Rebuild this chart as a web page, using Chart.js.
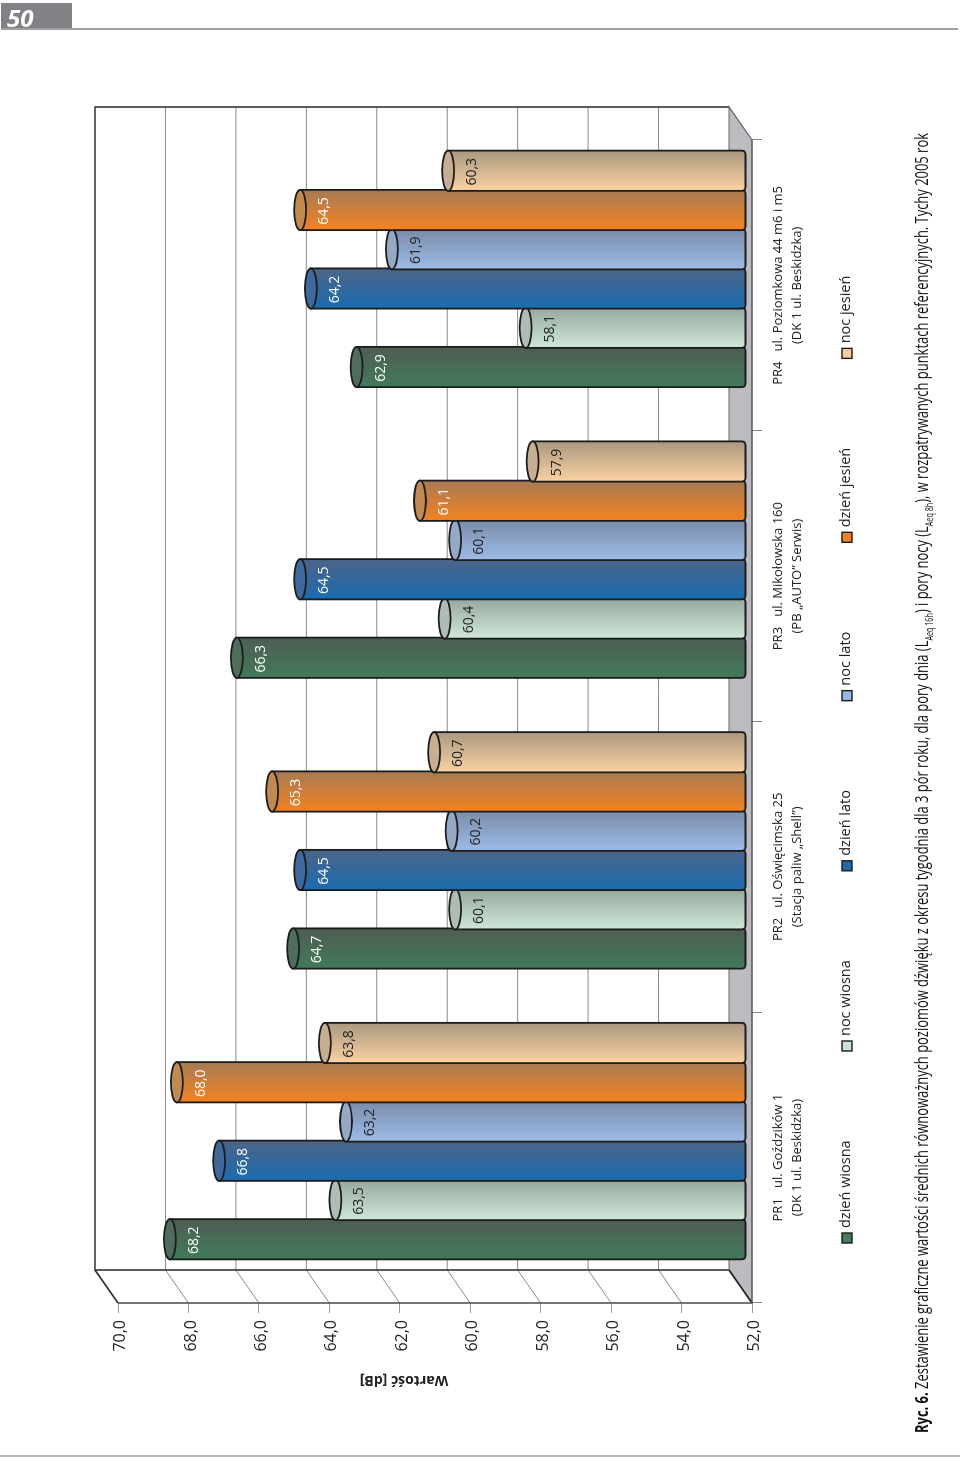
<!DOCTYPE html>
<html lang="pl"><head><meta charset="utf-8">
<script src="https://cdn.jsdelivr.net/npm/chart.js@4"></script>
<style>
html,body{margin:0;padding:0;background:#fff;width:960px;height:1457px;overflow:hidden;font-family:"Open Sans",sans-serif}
#hdrBox{position:absolute;left:1px;top:3px;width:71px;height:26px;background:#808285;border-bottom:1px solid #55565a;box-sizing:border-box}
#hdrNum{position:absolute;left:6px;top:-1px;font:italic 700 24px "Open Sans",sans-serif;color:#fff;line-height:32px}
#hdrRule{position:absolute;left:1px;top:28px;width:957px;height:2px;background:#a0a0a2}
#btmRule{position:absolute;left:0;top:1455px;width:960px;height:2px;background:#b8b8b8}
#rot{position:absolute;left:0;top:0;width:1457px;height:960px;transform-origin:0 0;transform:translate(0,1457px) rotate(-90deg)}
canvas{position:absolute;left:0;top:0}
#cap{position:absolute;left:24px;top:909px;white-space:nowrap;font:18px/24px "Open Sans",sans-serif;color:#111;transform-origin:0 50%}
#cap sub{font-size:10px;line-height:0}
</style></head><body>
<div id="rot"><canvas id="c" width="1457" height="960"></canvas>
<div id="cap"><b>Ryc. 6.</b> Zestawienie graficzne wartości średnich równoważnych poziomów dźwięku z okresu tygodnia dla 3 pór roku, dla pory dnia (L<sub>Aeq 16h</sub>) i pory nocy (L<sub>Aeq 8h</sub>), w rozpatrywanych punktach referencyjnych. Tychy 2005 rok</div></div>
<div id="hdrBox"><div id="hdrNum">50</div></div><div id="hdrRule"></div><div id="btmRule"></div>
<script>
const categories=[["PR1   ul. Goździków 1","(DK 1 ul. Beskidzka)"],["PR2   ul. Oświęcimska 25","(Stacja paliw „Shell”)"],["PR3   ul. Mikołowska 160","(PB „AUTO” Serwis)"],["PR4   ul. Poziomkowa 44 m6 i m5","(DK 1 ul. Beskidzka)"]];
const dzienWiosna=[68.2,64.7,66.3,62.9];
const nocWiosna=[63.5,60.1,60.4,58.1];
const dzienLato=[66.8,64.5,64.5,64.2];
const nocLato=[63.2,60.2,60.1,61.9];
const dzienJesien=[68.0,65.3,61.1,64.5];
const nocJesien=[63.8,60.7,57.9,60.3];
const names=['dzień wiosna','noc wiosna','dzień lato','noc lato','dzień jesień','noc jesień'];
const series=[dzienWiosna,nocWiosna,dzienLato,nocLato,dzienJesien,nocJesien];
const valueMin=52,valueMax=70,valueStep=2;
const yTitle="Wartość [dB]";
const FONT='"Open Sans",sans-serif';
const INK='#1c1c1c';
const styles=[
 {dull:'#4f5d53',rich:'#417a5a',cap:'#4f6d5c',solid:'#4a7c5e',txt:'#ffffff'},
 {dull:'#96a89d',rich:'#cfe8d8',cap:'#adbdb4',solid:'#c9e4d3',txt:'#222222'},
 {dull:'#4c6488',rich:'#1a6cb0',cap:'#3f689c',solid:'#1a6bae',txt:'#ffffff'},
 {dull:'#7a8ba8',rich:'#9dbce8',cap:'#94a9c6',solid:'#95b8e4',txt:'#222222'},
 {dull:'#a67b55',rich:'#f58220',cap:'#c08a50',solid:'#f47f20',txt:'#ffffff'},
 {dull:'#a99880',rich:'#fcd2a2',cap:'#c8ae90',solid:'#fbcb98',txt:'#222222'}];
const DX=33,DY=-23; // back-wall depth
const comma=v=>Number(v).toFixed(1).replace('.',',');
const cap=document.getElementById('cap');
cap.style.transform='scaleX('+(1300/cap.offsetWidth)+')';
const scene={id:'scene',
 beforeDatasetsDraw(chart){
  const ctx=chart.ctx,xs=chart.scales.x,ys=chart.scales.y;
  const L=xs.left,R=xs.right,T=ys.getPixelForValue(valueMax),B=ys.getPixelForValue(valueMin);
  ctx.save();
  ctx.fillStyle='#bcbcc0';ctx.beginPath();ctx.moveTo(L,B);ctx.lineTo(R,B);ctx.lineTo(R+DX,B+DY);ctx.lineTo(L+DX,B+DY);ctx.closePath();ctx.fill();
  ys.ticks.forEach(t=>{const y=ys.getPixelForValue(t.value);
   ctx.strokeStyle='#8a8a8a';ctx.lineWidth=1;
   if(t.value>valueMin&&t.value<valueMax){ctx.beginPath();ctx.moveTo(L,y);ctx.lineTo(L+DX,y+DY);ctx.lineTo(R+DX,y+DY);ctx.stroke();}
  });
  ctx.strokeStyle='#333';ctx.lineWidth=1.6;
  ctx.beginPath();ctx.moveTo(R+DX,B+DY);ctx.lineTo(R+DX,T+DY);ctx.lineTo(L+DX,T+DY);ctx.lineTo(L+DX,B+DY);ctx.stroke();
  ctx.beginPath();ctx.moveTo(L,T);ctx.lineTo(L+DX,T+DY);ctx.stroke();
  ctx.strokeStyle='#666';ctx.lineWidth=1.2;
  ctx.beginPath();ctx.moveTo(L+DX,B+DY);ctx.lineTo(R+DX,B+DY);ctx.lineTo(R,B);ctx.stroke();
  ctx.strokeStyle='#222';ctx.lineWidth=1.6;
  ctx.beginPath();ctx.moveTo(L,B);ctx.lineTo(L+DX,B+DY);ctx.stroke();
  ctx.strokeStyle='#555';ctx.lineWidth=1.6;
  ctx.beginPath();ctx.moveTo(L,T);ctx.lineTo(L,B);ctx.lineTo(R,B);ctx.stroke();
  const ox=DX/2,oy=DY/2,ry=6;
  chart.data.datasets.forEach((ds,i)=>{const st=styles[i];
   chart.getDatasetMeta(i).data.forEach((el)=>{
    const cx=el.x+ox,hw=el.width/2+0.5,top=el.y+oy,base=el.base+oy;
    const g=ctx.createLinearGradient(cx+hw,0,cx-hw,0);g.addColorStop(0,st.dull);g.addColorStop(1,st.rich);
    ctx.beginPath();ctx.moveTo(cx-hw,top);ctx.lineTo(cx-hw,base+1.5);
    ctx.quadraticCurveTo(cx-hw,base+5.5,cx-hw+4,base+5.5);ctx.lineTo(cx+hw-4,base+5.5);
    ctx.quadraticCurveTo(cx+hw,base+5.5,cx+hw,base+1.5);ctx.lineTo(cx+hw,top);ctx.closePath();
    ctx.fillStyle=g;ctx.fill();ctx.strokeStyle=INK;ctx.lineWidth=1.8;ctx.stroke();
    ctx.beginPath();ctx.ellipse(cx,top,hw,ry,0,0,Math.PI*2);ctx.fillStyle=st.cap;ctx.fill();ctx.stroke();
   });
  });
  ctx.font='14px '+FONT;ctx.textAlign='center';ctx.textBaseline='middle';
  chart.data.datasets.forEach((ds,i)=>{ctx.fillStyle=styles[i].txt;
   chart.getDatasetMeta(i).data.forEach((el,j)=>{ctx.fillText(comma(ds.data[j]),el.x+ox-1,el.y+oy+24);});
  });
  ctx.save();ctx.translate(77,404);ctx.rotate(-Math.PI/2);ctx.font='700 14px '+FONT;ctx.fillStyle='#222';ctx.fillText(yTitle,0,0);ctx.restore();
  ctx.font='14.5px '+FONT;ctx.textAlign='left';let lx=214;const ly=847;
  chart.data.datasets.forEach((ds,i)=>{
   ctx.fillStyle=ds.backgroundColor;ctx.strokeStyle=INK;ctx.lineWidth=1.4;
   ctx.fillRect(lx,ly-5,10,10);ctx.strokeRect(lx,ly-5,10,10);
   ctx.fillStyle='#222';ctx.fillText(ds.label,lx+15,ly-1);
   lx+=15+ctx.measureText(ds.label).width+89.4;
  });
  ctx.restore();
  return false;
 }};
new Chart(document.getElementById('c'),{type:'bar',plugins:[scene],
 data:{labels:categories,datasets:series.map((d,i)=>({label:names[i],data:d,base:valueMin,backgroundColor:styles[i].solid,categoryPercentage:0.81,barPercentage:1}))},
 options:{responsive:false,animation:false,devicePixelRatio:1,
  layout:{padding:{left:0,top:118,right:140,bottom:0}},
  plugins:{tooltip:{enabled:false},title:{display:false},legend:{display:false}},
  scales:{
   x:{afterFit(s){s.height=208;},grid:{display:true,drawOnChartArea:false,tickLength:10,color:'#888',offset:true},border:{display:false},
      ticks:{maxRotation:0,minRotation:0,autoSkip:false,padding:7,color:'#222',font:{family:FONT,size:13,lineHeight:1.46}}},
   y:{min:valueMin,max:valueMax,afterFit(s){s.width=154;},grid:{display:true,drawOnChartArea:false,tickLength:10,color:'#999'},border:{display:false},
      ticks:{stepSize:valueStep,padding:7,labelOffset:2.5,color:'#222',font:{family:FONT,size:16},callback:v=>comma(v)}}
  }}});
</script></body></html>
